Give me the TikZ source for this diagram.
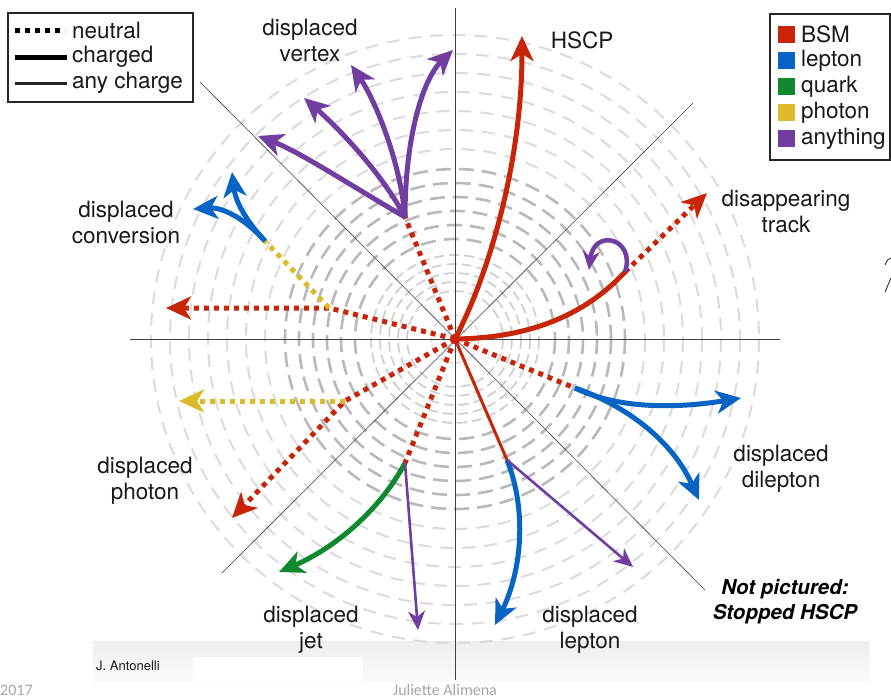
\documentclass[tikz,border=0pt]{standalone}
\usepackage{fontspec}
\setmainfont{TeX Gyre Heros}
\newfontfamily\footfont{Carlito}
\usetikzlibrary{arrows.meta}
\definecolor{bsm}{RGB}{200,36,8}
\definecolor{lep}{RGB}{8,100,196}
\definecolor{qrk}{RGB}{16,136,48}
\definecolor{pho}{RGB}{220,186,40}
\definecolor{anyc}{RGB}{112,62,160}
\definecolor{txt}{RGB}{25,25,25}
\tikzset{
  neutraltrack/.style={line width=5pt, dash pattern=on 5pt off 5pt},
  chargedtrack/.style={line width=5pt},
  anytrack/.style={line width=2.6pt},
  bigtip/.style={-{Stealth[length=25pt,width=23pt,inset=7pt]}},
  smalltip/.style={-{Stealth[length=19pt,width=17pt,inset=6pt]}},
  axisline/.style={line width=0.6pt, black!75},
  label/.style={font=\fontsize{22.5}{26}\selectfont, text=txt, align=center, inner sep=0pt},
  legtext/.style={font=\fontsize{22.5}{24}\selectfont, text=txt, anchor=west, inner sep=0pt},
  ringA/.style={draw=gray!35, line width=1.2pt, dash pattern=on 5pt off 3pt},
  ringB/.style={draw=gray!40, line width=1.6pt, dash pattern=on 10pt off 5pt},
  ringC/.style={draw=gray!55, line width=2.6pt, dash pattern=on 15pt off 8pt},
  ringD/.style={draw=gray!28, line width=2pt, dash pattern=on 13pt off 9pt},
}
\begin{document}
\begin{tikzpicture}[x=1pt,y=-1pt]
\useasboundingbox[fill=white] (0,0) rectangle (891,699);

% footer strip and credits
\shade[top color=gray!13, bottom color=gray!4] (93,641) rectangle (870,681);
\fill[white] (193,657) rectangle (363,681);
\node[anchor=west, inner sep=0pt, font=\fontsize{13}{15}\selectfont, text=txt] (credit) at (96,666) {J. Antonelli};
\node[anchor=west, inner sep=0pt, font=\footfont\fontsize{16}{18}\selectfont, text=gray!70] (year) at (0,690) {2017};
\node[inner sep=0pt, font=\footfont\fontsize{16}{18}\selectfont, text=gray!70] (author) at (445,690) {Juliette Alimena};

\coordinate (C) at (455,339);

% detector layers
\foreach \r in {12,24} \draw[ringA] (C) circle (\r);
\foreach \r in {48,57,66,75,84} \draw[ringB] (C) circle (\r);
\foreach \r in {100,114,128,142,156,170} \draw[ringC] (C) circle (\r);
\foreach \r in {190,209,228,247,266,285,304} \draw[ringD] (C) circle (\r);

% axes
\draw[axisline] (455,8) -- (455,680);
\draw[axisline] (130,339) -- (780,339);
\draw[axisline] (200,82) -- (705,590);
\draw[axisline] (693,103) -- (222,573);

% vertices
\coordinate (vtx) at (405,217);
\coordinate (conv) at (329,308);
\coordinate (convB) at (265,241);
\coordinate (phov) at (345,401);
\coordinate (jetv) at (405,463);
\coordinate (lepv) at (507,460);
\coordinate (dilv) at (575,388);
\coordinate (disv) at (625,272);

% displaced vertex
\draw[bsm, neutraltrack] (C) -- (vtx);
\draw[anyc, chargedtrack, bigtip] (vtx) .. controls (350,185) and (300,152) .. (258,136);
\draw[anyc, chargedtrack, bigtip] (vtx) .. controls (380,170) and (335,125) .. (304,98);
\draw[anyc, chargedtrack, bigtip] (vtx) .. controls (400,160) and (375,100) .. (351,65);
\draw[anyc, chargedtrack, bigtip] (vtx) .. controls (405,140) and (422,80) .. (453,50);

% HSCP
\draw[bsm, chargedtrack, bigtip] (C) .. controls (490,272) and (522,160) .. (522,36);

% disappearing track
\draw[bsm, chargedtrack] (C) .. controls (530,338) and (585,315) .. (disv);
\draw[bsm, neutraltrack, bigtip] (disv) -- (707,193);
\draw[anyc, line width=4.5pt, smalltip] (disv) .. controls (636,238) and (594,228) .. (589,270);

% displaced conversion
\draw[bsm, neutraltrack, bigtip] (C) -- (conv) -- (166,308);
\draw[pho, neutraltrack] (conv) -- (convB);
\draw[lep, chargedtrack, bigtip] (convB) .. controls (250,225) and (236,205) .. (232,172);
\draw[lep, chargedtrack, bigtip] (convB) .. controls (248,222) and (225,207) .. (193,209);

% displaced photon
\draw[bsm, neutraltrack, bigtip] (C) -- (phov) -- (232,518);
\draw[pho, neutraltrack, bigtip] (phov) -- (179,401);

% displaced jet
\draw[bsm, neutraltrack] (C) -- (jetv);
\draw[qrk, chargedtrack, bigtip] (jetv) .. controls (380,510) and (335,548) .. (279,572);
\draw[anyc, anytrack, smalltip] (jetv) -- (418,630);

% displaced lepton
\draw[bsm, line width=3pt] (C) -- (lepv);
\draw[lep, chargedtrack, bigtip] (lepv) .. controls (527,510) and (522,570) .. (495,625);
\draw[anyc, anytrack, smalltip] (lepv) -- (633,567);

% displaced dilepton
\draw[bsm, neutraltrack] (C) -- (dilv);
\draw[lep, chargedtrack, bigtip] (dilv) .. controls (620,410) and (680,408) .. (741,398);
\draw[lep, chargedtrack, bigtip] (dilv) .. controls (625,405) and (672,440) .. (699,500);

% labels
\node[label] (lvertex) at (310,40) {displaced\\vertex};
\node[label] (lhscp) at (582,40) {HSCP};
\node[label] (ldis) at (786,211) {disappearing\\track};
\node[label] (lconv) at (126,222) {displaced\\conversion};
\node[label] (lpho) at (145,481) {displaced\\photon};
\node[label] (ldil) at (781,469) {displaced\\dilepton};
\node[label] (ljet) at (311,630) {displaced\\jet};
\node[label] (llep) at (590,630) {displaced\\lepton};
\node[label, font=\bfseries\itshape\fontsize{20.5}{25}\selectfont, text=black] (lstop) at (785,602) {Not pictured:\\Stopped HSCP};

% partial glyph at the right edge
\draw[black!80, line width=0.9pt] (885,265) .. controls (887,260) and (889,258) .. (891,258);
\draw[black!80, line width=0.9pt] (891,278) -- (885,292);

% line style legend
\draw[line width=1.5pt, black!85] (8,13) rectangle (193,102);
\draw[black, neutraltrack] (15,30) -- (65,30);
\draw[black, line width=5pt] (15,57) -- (67,57);
\draw[black!85, line width=3pt] (15,83) -- (67,83);
\node[legtext] (nneutral) at (72,30) {neutral};
\node[legtext] (ncharged) at (72,57) {charged};
\node[legtext] (nany) at (72,83) {any charge};

% colour legend
\draw[line width=1.5pt, black!85] (770,14) rectangle (890,160);
\fill[bsm] (778,26) rectangle (795,43);
\fill[lep] (778,52) rectangle (795,69);
\fill[qrk] (778,78) rectangle (795,95);
\fill[pho] (778,104) rectangle (795,121);
\fill[anyc] (778,130) rectangle (795,147);
\node[legtext] (cbsm) at (801,34) {BSM};
\node[legtext] (clep) at (801,61) {lepton};
\node[legtext] (cqrk) at (801,87) {quark};
\node[legtext] (cpho) at (801,113) {photon};
\node[legtext] (cany) at (801,139) {anything};
\end{tikzpicture}
\end{document}
